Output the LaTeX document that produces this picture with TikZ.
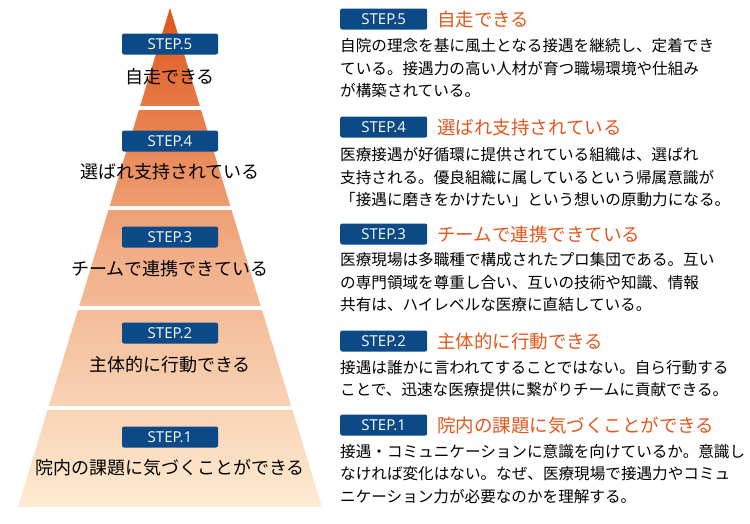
\documentclass[tikz,border=0pt]{standalone}
\usepackage{fontspec}
\setmainfont{Noto Sans CJK JP}
\newfontfamily\stepfont{Open Sans}
\definecolor{badgeblue}{HTML}{0B4A86}
\definecolor{titleorange}{HTML}{E2571C}
\definecolor{apexorange}{HTML}{E0561A}
\definecolor{basepeach}{HTML}{FDEBD2}
\tikzset{
  badge/.style={fill=badgeblue, rounded corners=2pt, text=white, minimum width=96pt, minimum height=21pt, inner sep=0pt, font=\stepfont\fontsize{15}{15}\selectfont},
  sidebadge/.style={badge, minimum width=87pt, anchor=west},
  layerlabel/.style={font=\fontsize{18}{18}\selectfont},
  steptitle/.style={anchor=west, text=titleorange, inner sep=0pt, font=\fontsize{18.5}{18.5}\selectfont},
  bodyline/.style={anchor=west, inner sep=0pt, font=\fontsize{15.6}{15.6}\selectfont}
}
\begin{document}
\begin{tikzpicture}[x=1pt, y=-1pt]
  \useasboundingbox (0,0) rectangle (750,523);
  % pyramid
  \shade[top color=apexorange, bottom color=basepeach, middle color=apexorange!40!basepeach]
    (170,8) -- (322,507) -- (18,507) -- cycle;
  \foreach \gap in {108,208,308,408} \fill[white] (0,\gap-2) rectangle (340,\gap+2);
  % labels on pyramid
  \node[badge] (p5) at (170,44) {STEP.5};
  \node[layerlabel] (l5) at (170,77) {自走できる};
  \node[badge] (p4) at (170,141) {STEP.4};
  \node[layerlabel] (l4) at (170,172) {選ばれ支持されている};
  \node[badge] (p3) at (170,237) {STEP.3};
  \node[layerlabel] (l3) at (170,269) {チームで連携できている};
  \node[badge] (p2) at (170,333) {STEP.2};
  \node[layerlabel] (l2) at (170,365) {主体的に行動できる};
  \node[badge] (p1) at (170,437) {STEP.1};
  \node[layerlabel] (l1) at (170,468) {院内の課題に気づくことができる};
  % descriptions
  \node[sidebadge] (s5) at (340,19) {STEP.5};
  \node[steptitle] (t5) at (437,19) {自走できる};
  \node[bodyline] (d5a) at (340,46) {自院の理念を基に風土となる接遇を継続し、定着でき};
  \node[bodyline] (d5b) at (340,69) {ている。接遇力の高い人材が育つ職場環境や仕組み};
  \node[bodyline] (d5c) at (340,91) {が構築されている。};

  \node[sidebadge] (s4) at (340,127) {STEP.4};
  \node[steptitle] (t4) at (437,127) {選ばれ支持されている};
  \node[bodyline] (d4a) at (340,155) {医療接遇が好循環に提供されている組織は、選ばれ};
  \node[bodyline] (d4b) at (340,178) {支持される。優良組織に属しているという帰属意識が};
  \node[bodyline] (d4c) at (340,200) {「接遇に磨きをかけたい」という想いの原動力になる。};

  \node[sidebadge] (s3) at (340,234) {STEP.3};
  \node[steptitle] (t3) at (437,234) {チームで連携できている};
  \node[bodyline] (d3a) at (340,260) {医療現場は多職種で構成されたプロ集団である。互い};
  \node[bodyline] (d3b) at (340,283) {の専門領域を尊重し合い、互いの技術や知識、情報};
  \node[bodyline] (d3c) at (340,305) {共有は、ハイレベルな医療に直結している。};

  \node[sidebadge] (s2) at (340,341) {STEP.2};
  \node[steptitle] (t2) at (437,341) {主体的に行動できる};
  \node[bodyline] (d2a) at (340,368) {接遇は誰かに言われてすることではない。自ら行動する};
  \node[bodyline] (d2b) at (340,390) {ことで、迅速な医療提供に繋がりチームに貢献できる。};

  \node[sidebadge] (s1) at (340,425) {STEP.1};
  \node[steptitle] (t1) at (437,425) {院内の課題に気づくことができる};
  \node[bodyline] (d1a) at (340,452) {接遇・コミュニケーションに意識を向けているか。意識し};
  \node[bodyline] (d1b) at (340,474) {なければ変化はない。なぜ、医療現場で接遇力やコミュ};
  \node[bodyline] (d1c) at (340,497) {ニケーション力が必要なのかを理解する。};
\end{tikzpicture}
\end{document}
